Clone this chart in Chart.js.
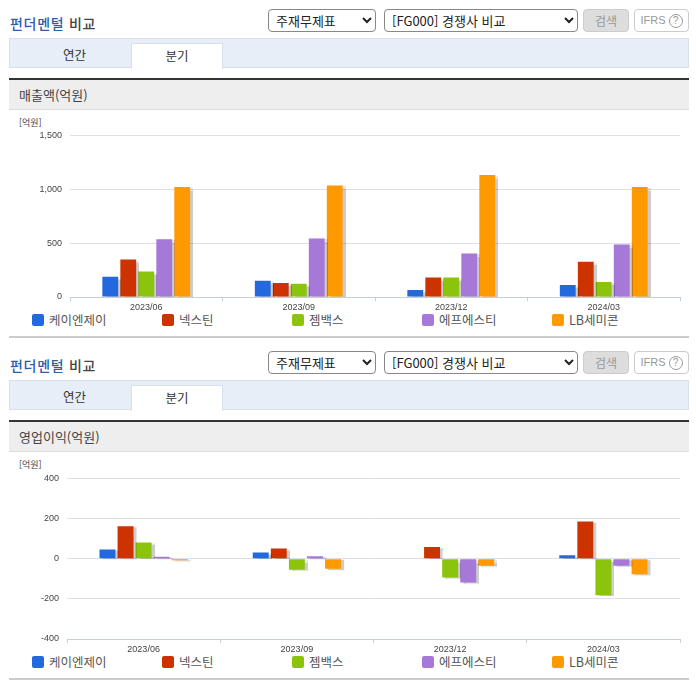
<!DOCTYPE html>
<html lang="ko">
<head>
<meta charset="utf-8">
<title>펀더멘털 비교</title>
<script src="https://cdn.jsdelivr.net/npm/chart.js@4"></script>
<style>
html, body { margin: 0; padding: 0; background: #fff; }
body { width: 696px; height: 684px; position: relative; overflow: hidden; font-family: "Noto Sans CJK KR", sans-serif; color: #444; }
.abs { position: absolute; white-space: nowrap; }
.title { left: 10px; font-size: 14px; font-weight: 500; letter-spacing: 0.7px; line-height: 20px; color: #444; }
.title b { color: #2f5ea8; font-weight: 500; }
select { position: absolute; height: 23px; box-sizing: border-box; background: #fff; border: 1px solid #888; border-radius: 4px; font: 13px "Noto Sans CJK KR", sans-serif; color: #222; padding: 0 0 0 3px; }
.btn { position: absolute; height: 23px; box-sizing: border-box; border-radius: 4px; text-align: center; font-size: 12px; line-height: 21px; color: #999; }
.tabs { position: absolute; left: 9px; width: 680px; height: 30px; box-sizing: border-box; background: #e8eef7; border: 1px solid #d8e0ea; }
.tab { position: absolute; width: 91px; text-align: center; font-size: 12.5px; line-height: 24px; color: #333; }
.tab.on { background: #fff; border: 1px solid #d8e0ea; border-bottom: 0; box-sizing: border-box; width: 92px; height: 26px; }
.head { position: absolute; left: 9px; width: 680px; height: 32px; box-sizing: border-box; background: #eee; border-top: 2px solid #333; border-bottom: 1px solid #ddd; padding-left: 10px; font-size: 13px; line-height: 29px; color: #444; }
.unit { left: 19px; font-size: 9px; line-height: 12px; color: #444; }
.foot { position: absolute; left: 9px; width: 680px; height: 2px; background: #ccc; }
.swatch { position: absolute; width: 12px; height: 12px; border-radius: 2px; }
.name { font-size: 12.5px; line-height: 16px; color: #555; }
canvas { position: absolute; left: 0; }
</style>
</head>
<body>
<script>
const categories = ['2023/06', '2023/09', '2023/12', '2024/03'];
const companies = ['케이엔제이', '넥스틴', '젬백스', '에프에스티', 'LB세미콘'];
const colors = ['#2269dd', '#cc3300', '#8cc40d', '#a678d8', '#ff9900'];

// 매출액 (억원)
const salesKnj = [187, 150, 65, 112];
const salesNextin = [348, 130, 180, 327];
const salesGemvax = [236, 124, 180, 140];
const salesFst = [535, 544, 404, 488];
const salesLb = [1020, 1036, 1132, 1020];

// 영업이익 (억원)
const profitKnj = [46, 31, 0, 17];
const profitNextin = [162, 51, 58, 185];
const profitGemvax = [81, -55, -94, -182];
const profitFst = [10, 12, -119, -35];
const profitLb = [-8, -50, -35, -78];

// 막대 그림자 (원본 차트의 회색 그림자)
const barShadow = {
    id: 'barShadow',
    beforeDatasetsDraw(chart) {
        const ctx = chart.ctx;
        ctx.shadowColor = 'rgba(0,0,0,0.2)';
        ctx.shadowOffsetX = 3;
        ctx.shadowOffsetY = 1;
        ctx.shadowBlur = 1;
    },
    afterDatasetsDraw(chart) {
        const ctx = chart.ctx;
        ctx.shadowColor = 'transparent';
        ctx.shadowOffsetX = 0;
        ctx.shadowOffsetY = 0;
        ctx.shadowBlur = 0;
    }
};

function addEl(tag, cls, top, left, html) {
    const el = document.createElement(tag);
    el.className = cls;
    el.style.top = top + 'px';
    if (left !== null) el.style.left = left + 'px';
    if (html) el.innerHTML = html;
    document.body.appendChild(el);
    return el;
}

function buildSection(off, label) {
    addEl('div', 'abs title', 13 + off, null, '<b>펀더멘털</b> 비교');

    const s1 = addEl('select', '', 9 + off, 268, '<option>주재무제표</option>');
    s1.style.width = '108px';
    const s2 = addEl('select', '', 9 + off, 384, '<option>[FG000] 경쟁사 비교</option>');
    s2.style.width = '194px';

    const search = addEl('div', 'btn', 9 + off, 583, '검색');
    search.style.cssText += 'width:46px;background:#ddd;border:1px solid #ccc;';
    const ifrs = addEl('div', 'btn', 9 + off, 634, 'IFRS <span style="display:inline-block;width:14px;height:14px;line-height:12px;border:1px solid #999;border-radius:50%;font-size:10px;box-sizing:border-box;">?</span>');
    ifrs.style.cssText += 'width:55px;background:#fff;border:1px solid #ccc;font-family:\'Liberation Sans\',sans-serif;font-size:11px;';

    addEl('div', 'tabs', 38 + off, null);
    addEl('div', 'tab', 43 + off, 29, '연간');
    addEl('div', 'tab on', 43 + off, 131, '분기');

    addEl('div', 'head', 78 + off, null, label);
    addEl('div', 'abs unit', 117 + off, null, '[억원]');
    addEl('div', 'foot', 336 + off, null);

    companies.forEach((name, i) => {
        const sw = addEl('div', 'swatch', 314 + off, 32 + i * 130);
        sw.style.background = colors[i];
        addEl('div', 'abs name', 312 + off, 49 + i * 130, name);
    });
}

function drawChart(top, height, plotLeft, series, min, max, step) {
    const canvas = addEl('canvas', '', top, null);
    canvas.style.width = '696px';
    canvas.style.height = height + 'px';
    canvas.width = 696;
    canvas.height = height;

    new Chart(canvas.getContext('2d'), {
        type: 'bar',
        data: {
            labels: categories,
            datasets: companies.map((name, i) => ({
                label: name,
                data: series[i],
                backgroundColor: colors[i],
                categoryPercentage: 0.59,
                barPercentage: 0.88
            }))
        },
        plugins: [barShadow],
        options: {
            responsive: false,
            animation: false,
            devicePixelRatio: 1,
            layout: { padding: { top: 8, right: 16, bottom: 0, left: 0 } },
            plugins: { legend: { display: false }, tooltip: { enabled: false } },
            scales: {
                x: {
                    afterFit(scale) { scale.height = 18; },
                    offset: true,
                    border: { color: '#c3d0dc' },
                    grid: { drawOnChartArea: false, color: '#c3d0dc', tickLength: 4 },
                    ticks: { padding: 1, color: '#444', maxRotation: 0, font: { family: 'Liberation Sans', size: 9 } }
                },
                y: {
                    afterFit(scale) { scale.width = plotLeft; },
                    min: min,
                    max: max,
                    border: { display: false },
                    grid: { color: '#dcdfe3', drawTicks: false },
                    ticks: {
                        stepSize: step,
                        padding: 8,
                        color: '#444',
                        font: { family: 'Liberation Sans', size: 9 },
                        callback: v => v.toLocaleString('en-US')
                    }
                }
            }
        }
    });
}

window.onload = function() {
    buildSection(0, '매출액(억원)');
    buildSection(342, '영업이익(억원)');
    drawChart(122, 193, 70, [salesKnj, salesNextin, salesGemvax, salesFst, salesLb], 0, 1500, 500);
    drawChart(465, 192, 67, [profitKnj, profitNextin, profitGemvax, profitFst, profitLb], -400, 400, 200);
};
</script>
</body>
</html>
